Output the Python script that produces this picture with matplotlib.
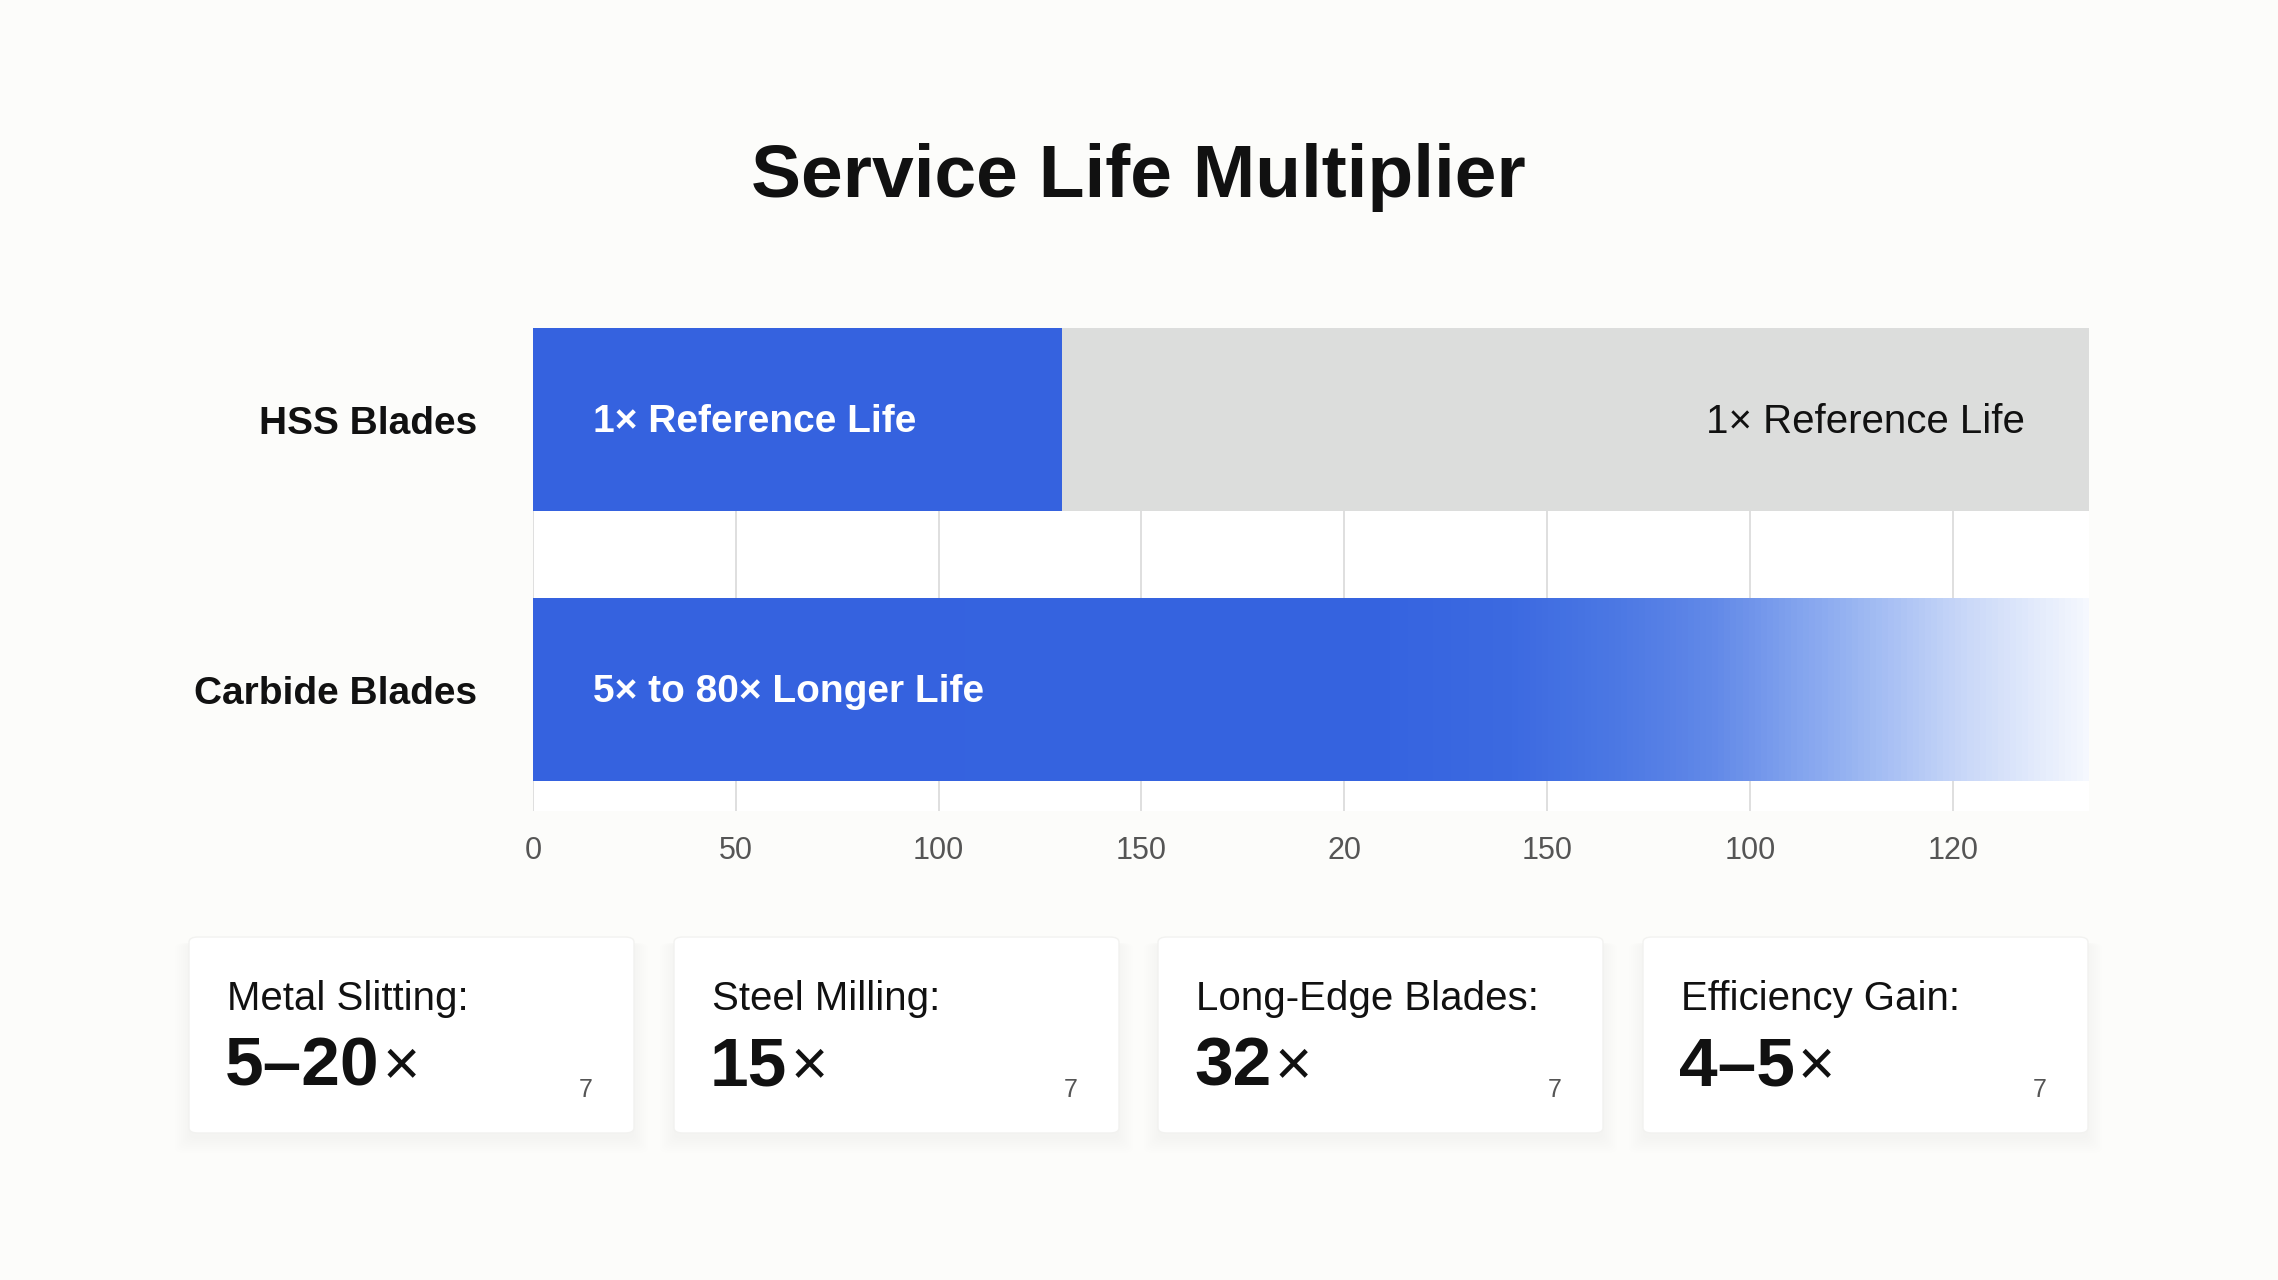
import numpy as np
import matplotlib.pyplot as plt
from matplotlib.colors import LinearSegmentedColormap
from matplotlib.patches import FancyBboxPatch

plt.rcParams['font.family'] = ['Liberation Sans', 'DejaVu Sans']

# chart data
categories = ['HSS Blades', 'Carbide Blades']
blue_values = [130.4, 383.6]
axis_max = 383.6
bar_texts = ['1× Reference Life', '5× to 80× Longer Life']
gray_text = '1× Reference Life'
tick_values = [0, 50, 100, 150, 200, 250, 300, 350]
tick_labels = ['0', '50', '100', '150', '20', '150', '100', '120']

card_labels = ['Metal Slitting:', 'Steel Milling:', 'Long-Edge Blades:', 'Efficiency Gain:']
card_numbers = ['5–20', '15', '32', '4–5']

BLUE = '#3562DF'
GRAY = '#DCDDDC'
W, H = 2278, 1280

fig = plt.figure(figsize=(W / 100, H / 100), dpi=100)
fig.patch.set_facecolor('#FCFCFA')

fig.text(1138 / W, 1 - 177 / H, 'Service Life Multiplier', ha='center', va='center',
         fontsize=54, fontweight='bold', color='#111111')

ax = fig.add_axes([533 / W, 1 - 811 / H, (2089 - 533) / W, (811 - 328) / H])
ax.set_facecolor('white')
ypos = np.arange(len(categories))
bh = 0.678

# HSS: blue part + gray remainder
ax.barh(ypos[0], blue_values[0], height=bh, color=BLUE, zorder=2)
ax.barh(ypos[0], axis_max - blue_values[0], left=blue_values[0], height=bh, color=GRAY, zorder=2)

# Carbide: gradient bar
carb = ax.barh(ypos[1], blue_values[1], height=bh, color='none', zorder=2)[0]
cmap = LinearSegmentedColormap.from_list('fade', [
    (0.0, '#3562DF'), (0.55, '#3664E0'), (0.63, '#3C6AE1'), (0.70, '#4D79E4'),
    (0.76, '#6289E8'), (0.84, '#92B0F1'), (0.92, '#C8D7F8'), (1.0, '#F5F8FE')])
grad = np.linspace(0, 1, 512).reshape(1, -1)
im = ax.imshow(grad, cmap=cmap, aspect='auto', zorder=2,
               extent=[0, blue_values[1], ypos[1] + bh / 2, ypos[1] - bh / 2])
im.set_clip_path(carb)

ax.set_xlim(0, axis_max)
ax.set_ylim(1.45, -0.34)

ax.text(14.7, ypos[0] + 0.01, bar_texts[0], color='white', fontsize=28, fontweight='bold',
        va='center', ha='left', zorder=3)
ax.text(14.7, ypos[1] + 0.01, bar_texts[1], color='white', fontsize=28, fontweight='bold',
        va='center', ha='left', zorder=3)
ax.text(367.8, ypos[0] + 0.01, gray_text, color='#111111', fontsize=29, va='center',
        ha='right', zorder=3)

ax.set_xticks(tick_values)
ax.set_xticklabels(tick_labels)
ax.set_yticks(ypos)
ax.set_yticklabels(categories, fontsize=28, fontweight='bold', color='#111111')
ax.tick_params(axis='x', length=0, pad=18, labelsize=22, labelcolor='#555555')
ax.tick_params(axis='y', length=0, pad=40)
ax.grid(axis='x', color='#D9D9D9', linewidth=1.2, zorder=0)
ax.set_axisbelow(True)
for s in ax.spines.values():
    s.set_visible(False)

# stat cards
card_left = [189, 674, 1158, 1643]
card_w, card_top, card_bot = 445, 937, 1133
renderer = fig.canvas.get_renderer()
for i in range(len(card_labels)):
    x0 = card_left[i]
    # soft shadow
    for k in range(8):
        fig.add_artist(FancyBboxPatch(
            ((x0 - k * 2) / W, 1 - (card_bot + 6 + k * 2) / H),
            (card_w + k * 4) / W, (card_bot - card_top + k * 2) / H,
            boxstyle='round,pad=0,rounding_size=0.004', transform=fig.transFigure,
            facecolor='#000000', edgecolor='none', alpha=0.005, zorder=1))
    fig.add_artist(FancyBboxPatch(
        (x0 / W, 1 - card_bot / H), card_w / W, (card_bot - card_top) / H,
        boxstyle='round,pad=0,rounding_size=0.004', transform=fig.transFigure,
        facecolor='white', edgecolor='#F2F2F0', linewidth=1, zorder=2))
    fig.text((x0 + 38) / W, 1 - 1010 / H, card_labels[i], fontsize=29,
             color='#111111', ha='left', va='baseline', zorder=3)
    t = fig.text((x0 + 36) / W, 1 - 1085 / H, card_numbers[i], fontsize=50,
                 fontweight='bold', color='#111111', ha='left', va='baseline', zorder=3)
    bb = t.get_window_extent(renderer)
    fig.text((bb.x1 + 3) / W, 1 - 1085 / H, '×', fontsize=46, color='#111111',
             ha='left', va='baseline', zorder=3)
    fig.text((x0 + card_w - 48) / W, 1 - 1090 / H, '7', fontsize=18, color='#555555',
             ha='center', va='center', zorder=3)

fig.savefig('out.png', dpi=100, facecolor=fig.get_facecolor())
